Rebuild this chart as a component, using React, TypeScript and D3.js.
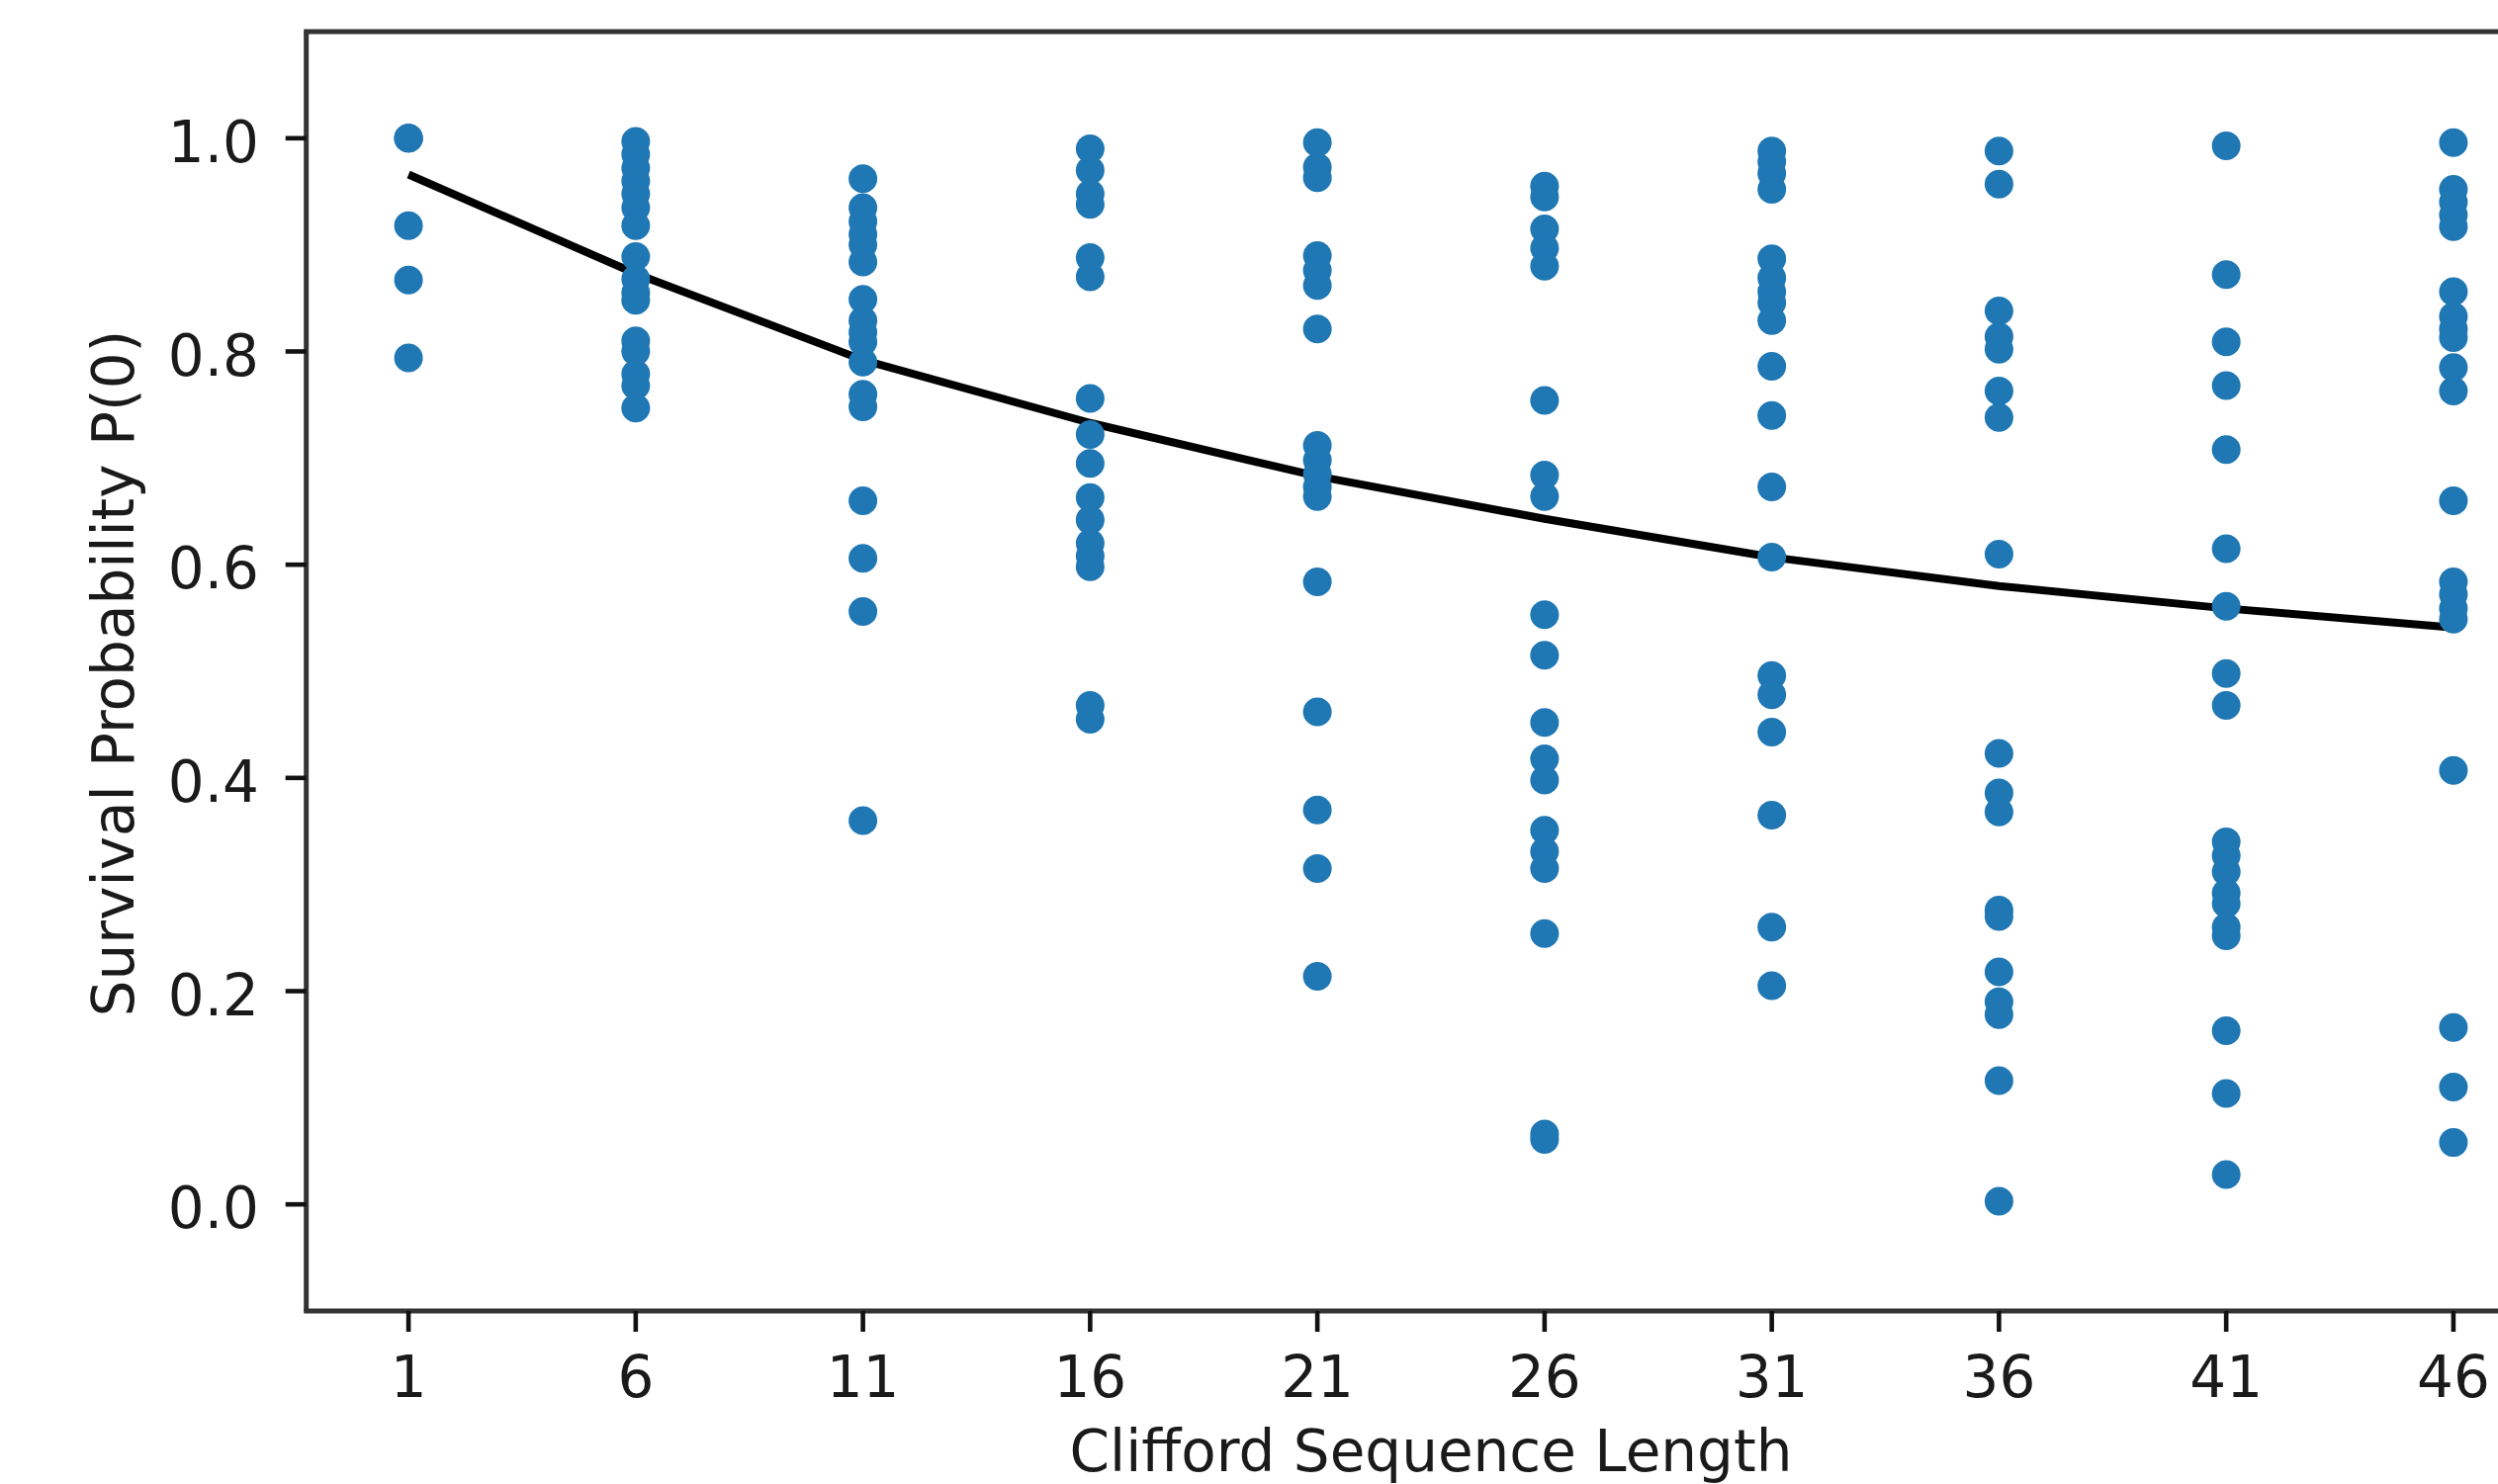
import React, { useEffect } from "react";
import * as d3 from "d3";

// Randomized-benchmarking survival data: one array of P(0) values per Clifford sequence length.
const seqLengths = [1, 6, 11, 16, 21, 26, 31, 36, 41, 46];

const survivalM1 = [1.0, 1.0, 1.0, 0.918, 0.867, 0.794];
const survivalM6 = [0.997, 0.985, 0.972, 0.96, 0.948, 0.935, 0.918, 0.889, 0.868, 0.855, 0.848, 0.81, 0.8, 0.779, 0.768, 0.747];
const survivalM11 = [0.962, 0.935, 0.922, 0.91, 0.9, 0.884, 0.849, 0.829, 0.818, 0.809, 0.79, 0.76, 0.748, 0.66, 0.606, 0.556, 0.36];
const survivalM16 = [0.99, 0.97, 0.948, 0.938, 0.888, 0.87, 0.756, 0.722, 0.695, 0.663, 0.642, 0.62, 0.608, 0.598, 0.468, 0.455];
const survivalM21 = [0.996, 0.973, 0.963, 0.89, 0.876, 0.862, 0.821, 0.712, 0.698, 0.685, 0.673, 0.664, 0.584, 0.462, 0.37, 0.315, 0.214];
const survivalM26 = [0.955, 0.945, 0.915, 0.897, 0.88, 0.754, 0.684, 0.664, 0.553, 0.515, 0.452, 0.418, 0.398, 0.351, 0.331, 0.315, 0.254, 0.066, 0.061];
const survivalM31 = [0.988, 0.978, 0.967, 0.952, 0.887, 0.869, 0.856, 0.846, 0.829, 0.786, 0.74, 0.673, 0.607, 0.496, 0.478, 0.443, 0.365, 0.26, 0.205];
const survivalM36 = [0.988, 0.957, 0.838, 0.814, 0.802, 0.763, 0.738, 0.61, 0.423, 0.386, 0.368, 0.276, 0.27, 0.218, 0.19, 0.178, 0.116, 0.003];
const survivalM41 = [0.993, 0.872, 0.809, 0.768, 0.708, 0.615, 0.561, 0.498, 0.468, 0.34, 0.327, 0.312, 0.292, 0.282, 0.26, 0.252, 0.163, 0.104, 0.028];
const survivalM46 = [0.996, 0.952, 0.94, 0.928, 0.917, 0.856, 0.833, 0.821, 0.813, 0.785, 0.763, 0.66, 0.584, 0.572, 0.559, 0.549, 0.407, 0.166, 0.11, 0.058];

// Fitted decay curve evaluated at each sequence length.
const fitValues = [0.966, 0.873, 0.792, 0.733, 0.683, 0.643, 0.607, 0.58, 0.559, 0.541];

const xTickValues = seqLengths;
const yTickValues = [0.0, 0.2, 0.4, 0.6, 0.8, 1.0];
const xAxisTitle = "Clifford Sequence Length";
const yAxisTitle = "Survival Probability P(0)";

const samplesByLength = [
  survivalM1, survivalM6, survivalM11, survivalM16, survivalM21,
  survivalM26, survivalM31, survivalM36, survivalM41, survivalM46,
];

const W = 2526;
const H = 1501;
const FONT = "'DejaVu Sans', sans-serif";
const FS = 58;
const DOT = "#1f77b4";

export default function App() {
  useEffect(() => {
    document.body.style.margin = "0";
    document.body.style.overflow = "hidden";
  }, []);

  const x = d3.scaleLinear().domain([-1.25, 48.25]).range([309.7, 2584.3]);
  const y = d3.scaleLinear().domain([-0.1, 1.1]).range([1326, 32]);

  const points = samplesByLength.flatMap((vals, i) =>
    vals.map((v) => ({ m: seqLengths[i], p: v }))
  );
  const fitData = seqLengths.map((m, i) => ({ m, p: fitValues[i] }));
  const fitPath = d3
    .line<{ m: number; p: number }>()
    .x((d) => x(d.m))
    .y((d) => y(d.p))(fitData) as string;

  const [x0, x1] = x.range();
  const [yb, yt] = y.range();
  const spine = "#333";
  const spineW = 5;

  return (
    <svg
      width={W}
      height={H}
      style={{ position: "absolute", left: 0, top: 0, background: "#fff" }}
      fontFamily={FONT}
    >
      <rect x={0} y={0} width={W} height={H} fill="#fff" />

      {/* fitted curve */}
      <path d={fitPath} fill="none" stroke="#000" strokeWidth={8} strokeLinejoin="round" />

      {/* measured survival probabilities */}
      <g fill={DOT}>
        {points.map((d, i) => (
          <circle key={i} cx={x(d.m)} cy={y(d.p)} r={14.5} />
        ))}
      </g>

      {/* axes frame */}
      <g stroke={spine} strokeWidth={spineW} fill="none">
        <line x1={x0} y1={yb} x2={x0} y2={yt} />
        <line x1={x0 - 2.5} y1={yt} x2={x1} y2={yt} />
        <line x1={x0 - 2.5} y1={yb} x2={x1} y2={yb} />
        <line x1={x1} y1={yb} x2={x1} y2={yt} />
      </g>

      {/* x ticks */}
      <g>
        {xTickValues.map((t) => (
          <g key={t}>
            <line x1={x(t)} x2={x(t)} y1={yb} y2={yb + 21} stroke="#111" strokeWidth={4.6} />
            <text x={x(t)} y={1413} textAnchor="middle" fontSize={FS} fill="#1a1a1a">
              {t}
            </text>
          </g>
        ))}
      </g>

      {/* y ticks */}
      <g>
        {yTickValues.map((t) => (
          <g key={t}>
            <line x1={x0 - 21} x2={x0} y1={y(t)} y2={y(t)} stroke="#111" strokeWidth={4.6} />
            <text x={262} y={y(t) + 24} textAnchor="end" fontSize={FS} fill="#1a1a1a">
              {d3.format(".1f")(t)}
            </text>
          </g>
        ))}
      </g>

      <text x={1447} y={1488} textAnchor="middle" fontSize={FS} fill="#1a1a1a">
        {xAxisTitle}
      </text>
      <text
        transform={`translate(135, 681) rotate(-90)`}
        textAnchor="middle"
        fontSize={FS}
        fill="#1a1a1a"
      >
        {yAxisTitle}
      </text>
    </svg>
  );
}
